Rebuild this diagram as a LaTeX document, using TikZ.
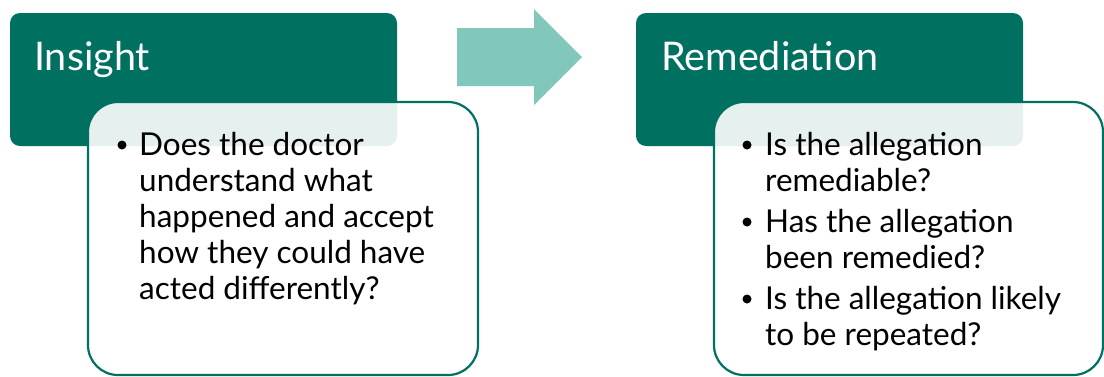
\documentclass[tikz,border=0pt]{standalone}
\usepackage{fontspec}
\setmainfont{Lato}
\definecolor{teal1}{RGB}{0,112,96}
\definecolor{teal2}{RGB}{130,200,186}
\tikzset{
  head/.style={fill=teal1, rounded corners=10pt},
  bodybox/.style={draw=teal1, line width=2.2pt, fill=white, fill opacity=0.9, rounded corners=30pt},
  headtxt/.style={anchor=base west, inner sep=0pt, text=white, font=\fontsize{39.5}{46}\selectfont},
  ln/.style={anchor=base west, inner sep=0pt, text=black, font=\fontsize{31.5}{36}\selectfont},
  bul/.style={circle, fill=black, inner sep=0pt, minimum size=9pt}
}
\begin{document}
\begin{tikzpicture}[x=1pt,y=-1pt]
\useasboundingbox (0,0) rectangle (1104,376);
% left
\path[head] (10,13) rectangle (397,146);
\node[headtxt] (h1) at (34,70) {Insight};
\path[bodybox] (88,102) rectangle (478,375);
\node[bul] (b1) at (122,145) {};
\node[ln] (l1) at (139,155) {Does the doctor};
\node[ln] (l2) at (139,191) {understand what};
\node[ln] (l3) at (139,227) {happened and accept};
\node[ln] (l4) at (139,263) {how they could have};
\node[ln] (l5) at (139,299) {acted differently?};
% arrow
\path[fill=teal2] (457,28) -- (534,28) -- (534,9) -- (582,57) -- (534,105) -- (534,86) -- (457,86) -- cycle;
% right
\path[head] (636,13) rectangle (1023,146);
\node[headtxt] (h2) at (661,70) {Remediation};
\path[bodybox] (714,102) rectangle (1103,375);
\node[bul] (b2) at (747,145) {};
\node[ln] (r1) at (765,155) {Is the allegation};
\node[ln] (r2) at (765,191) {remediable?};
\node[bul] (b3) at (747,222) {};
\node[ln] (r3) at (765,232) {Has the allegation};
\node[ln] (r4) at (765,268) {been remedied?};
\node[bul] (b4) at (747,299) {};
\node[ln] (r5) at (765,309) {Is the allegation likely};
\node[ln] (r6) at (765,345) {to be repeated?};
\end{tikzpicture}
\end{document}
